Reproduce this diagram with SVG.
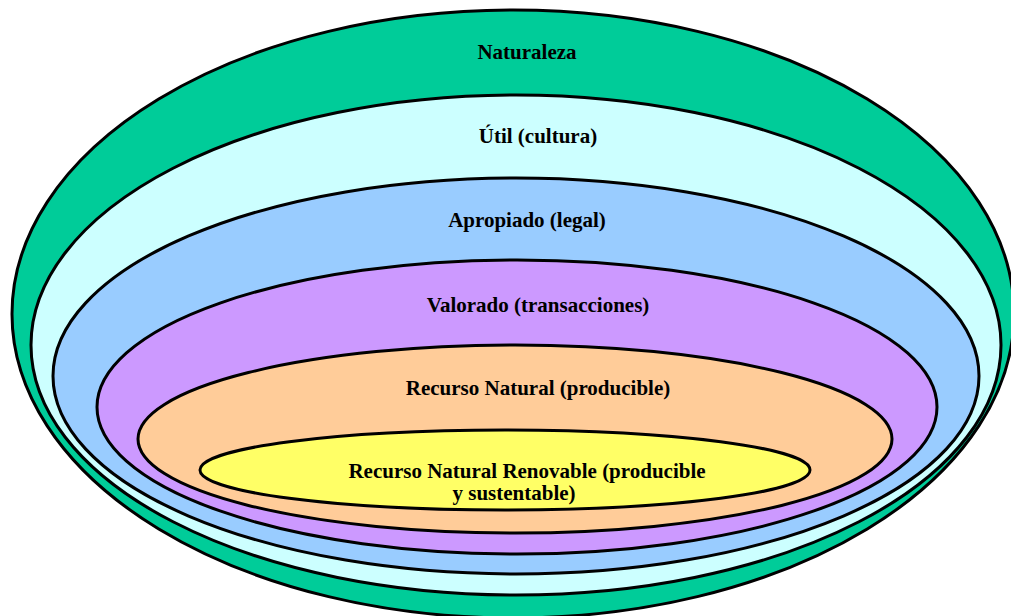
<svg xmlns="http://www.w3.org/2000/svg" width="1011" height="616" viewBox="0 0 1011 616">
<style>
.layer{stroke:#000;stroke-width:3}
.lbl{font-family:"Liberation Serif","Times New Roman",serif;font-weight:bold;font-size:21px;fill:#000;text-anchor:middle}
</style>
<rect width="1011" height="616" fill="#fff"/>
<g id="naturaleza"><ellipse class="layer" cx="513" cy="314" rx="501" ry="304" fill="#00CC99"/></g>
<g id="util"><ellipse class="layer" cx="516" cy="345" rx="485" ry="250" fill="#CCFFFF"/></g>
<g id="apropiado"><ellipse class="layer" cx="516" cy="376" rx="463" ry="198" fill="#99CCFF"/></g>
<g id="valorado"><ellipse class="layer" cx="517" cy="407" rx="420" ry="147" fill="#CC99FF"/></g>
<g id="recurso-natural"><ellipse class="layer" cx="515" cy="439" rx="377" ry="94" fill="#FFCC99"/></g>
<g id="recurso-renovable"><ellipse class="layer" cx="505" cy="470" rx="305" ry="40" fill="#FFFF66"/></g>
<g id="labels">
<text class="lbl" x="527" y="59">Naturaleza</text>
<text class="lbl" x="538" y="143">Útil (cultura)</text>
<text class="lbl" x="527" y="227">Apropiado (legal)</text>
<text class="lbl" x="538" y="312">Valorado (transacciones)</text>
<text class="lbl" x="538" y="395">Recurso Natural (producible)</text>
<text class="lbl" x="527" y="478">Recurso Natural Renovable (producible</text>
<text class="lbl" x="514" y="500">y sustentable)</text>
</g>
</svg>
